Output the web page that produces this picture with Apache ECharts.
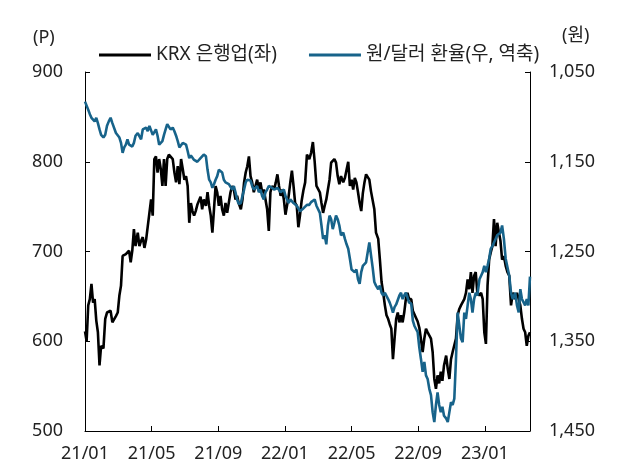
<!DOCTYPE html>
<html><head><meta charset="utf-8">
<script src="https://cdn.jsdelivr.net/npm/echarts@6/dist/echarts.min.js"></script>
<style>html,body{margin:0;padding:0;background:#fff}#c{width:622px;height:471px}</style>
</head><body><div id="c"></div>
<script>
const dates = [
'2021-01-01','2021-01-04','2021-01-07','2021-01-10','2021-01-13','2021-01-16','2021-01-19','2021-01-22','2021-01-25','2021-01-28','2021-01-31',
'2021-02-04','2021-02-07','2021-02-10','2021-02-13','2021-02-16','2021-02-19','2021-02-22','2021-02-25','2021-02-28',
'2021-03-03','2021-03-06','2021-03-09','2021-03-12','2021-03-15','2021-03-18','2021-03-21','2021-03-24','2021-03-27','2021-03-30',
'2021-04-02','2021-04-06','2021-04-09','2021-04-12','2021-04-15','2021-04-18','2021-04-21','2021-04-24','2021-04-27','2021-04-30',
'2021-05-03','2021-05-06','2021-05-09','2021-05-12','2021-05-15','2021-05-18','2021-05-21','2021-05-24','2021-05-27','2021-05-30',
'2021-06-02','2021-06-05','2021-06-09','2021-06-12','2021-06-15','2021-06-18','2021-06-21','2021-06-24','2021-06-27','2021-06-30',
'2021-07-03','2021-07-06','2021-07-09','2021-07-12','2021-07-15','2021-07-18','2021-07-21','2021-07-24','2021-07-27','2021-07-30',
'2021-08-02','2021-08-05','2021-08-09','2021-08-12','2021-08-15','2021-08-18','2021-08-21','2021-08-24','2021-08-27','2021-08-30',
'2021-09-02','2021-09-05','2021-09-08','2021-09-11','2021-09-14','2021-09-17','2021-09-20','2021-09-23','2021-09-26','2021-09-29',
'2021-10-02','2021-10-05','2021-10-08','2021-10-12','2021-10-15','2021-10-18','2021-10-21','2021-10-24','2021-10-27','2021-10-30',
'2021-11-02','2021-11-05','2021-11-08','2021-11-11','2021-11-14','2021-11-17','2021-11-20','2021-11-23','2021-11-26','2021-11-29',
'2021-12-02','2021-12-05','2021-12-08','2021-12-12','2021-12-15','2021-12-18','2021-12-21','2021-12-24','2021-12-27','2021-12-30',
'2022-01-02','2022-01-05','2022-01-08','2022-01-11','2022-01-14','2022-01-17','2022-01-20','2022-01-23','2022-01-26','2022-01-29',
'2022-02-01','2022-02-04','2022-02-07','2022-02-10','2022-02-14','2022-02-17','2022-02-20','2022-02-23','2022-02-26',
'2022-03-01','2022-03-04','2022-03-07','2022-03-10','2022-03-13','2022-03-16','2022-03-19','2022-03-22','2022-03-25','2022-03-28','2022-03-31',
'2022-04-03','2022-04-06','2022-04-09','2022-04-12','2022-04-16','2022-04-19','2022-04-22','2022-04-25','2022-04-28',
'2022-05-01','2022-05-04','2022-05-07','2022-05-10','2022-05-13','2022-05-16','2022-05-19','2022-05-22','2022-05-25','2022-05-28','2022-05-31',
'2022-06-03','2022-06-06','2022-06-09','2022-06-12','2022-06-15','2022-06-19','2022-06-22','2022-06-25','2022-06-28',
'2022-07-01','2022-07-04','2022-07-07','2022-07-10','2022-07-13','2022-07-16','2022-07-19','2022-07-22','2022-07-25','2022-07-28','2022-07-31',
'2022-08-03','2022-08-06','2022-08-09','2022-08-12','2022-08-15','2022-08-19','2022-08-22','2022-08-25','2022-08-28','2022-08-31',
'2022-09-03','2022-09-06','2022-09-09','2022-09-12','2022-09-15','2022-09-18','2022-09-21','2022-09-24','2022-09-27','2022-09-30',
'2022-10-03','2022-10-06','2022-10-09','2022-10-12','2022-10-15','2022-10-18','2022-10-22','2022-10-25','2022-10-28','2022-10-31',
'2022-11-03','2022-11-06','2022-11-09','2022-11-12','2022-11-15','2022-11-18','2022-11-21','2022-11-24','2022-11-27','2022-11-30',
'2022-12-03','2022-12-06','2022-12-09','2022-12-12','2022-12-15','2022-12-18','2022-12-22','2022-12-25','2022-12-28','2022-12-31',
'2023-01-03','2023-01-06','2023-01-09','2023-01-12','2023-01-15','2023-01-18','2023-01-21','2023-01-24','2023-01-27','2023-01-30',
'2023-02-02','2023-02-05','2023-02-08','2023-02-11','2023-02-14','2023-02-17','2023-02-20','2023-02-24','2023-02-27',
'2023-03-02','2023-03-05','2023-03-08','2023-03-11','2023-03-14','2023-03-17','2023-03-20','2023-03-23'
];
// KRX 은행업 지수 (좌축, P)
const krxBank = [
611,600,640,647,664,643,647,623,610,573,
595,592,625,632,633,634,621,621,628,632,
651,662,695,693,697,699,701,688,701,725,
706,721,706,712,716,704,713,728,743,758,
740,803,806,788,803,792,773,803,773,803,
808,808,803,788,777,795,775,803,792,780,
784,773,732,754,745,740,745,752,750,761,
747,758,751,766,751,740,721,747,773,766,
751,762,747,740,754,743,743,766,773,769,
758,762,754,747,758,777,788,795,806,784,
777,766,773,780,769,777,766,769,758,747,
723,766,773,769,777,786,773,762,769,758,
741,743,762,777,790,773,754,751,727,740,
756,768,777,808,803,810,822,800,773,775,
766,754,743,751,758,769,780,799,801,803,
799,784,775,784,777,782,791,800,773,780,
769,782,777,766,754,745,765,777,786,788,
780,767,766,747,721,714,691,666,654,640,
629,625,619,614,580,603,625,632,621,629,
621,632,647,654,647,647,634,634,626,622,
615,602,588,603,614,610,610,603,588,558,
547,562,553,566,556,573,584,569,558,580,
588,588,603,629,636,640,640,647,654,669,
658,677,654,673,677,654,651,654,647,610,
597,662,691,699,706,736,706,732,734,712,
691,695,684,677,673,640,654,647,654,647,
640,625,614,610,595,606,610
];
// 원/달러 환율 (우축, 역축, 원)
const usdKrw = [
1083,1084,1092,1097,1101,1103,1105,1101,1107,1114,
1120,1123,1120,1110,1105,1101,1107,1108,1118,1120,
1123,1129,1140,1134,1131,1125,1131,1129,1133,1129,
1121,1118,1116,1125,1114,1116,1112,1116,1110,1108,
1120,1118,1114,1121,1131,1133,1127,1120,1114,1108,
1107,1114,1112,1116,1121,1127,1134,1136,1129,1127,
1131,1138,1146,1143,1144,1148,1148,1150,1148,1146,
1144,1142,1144,1159,1170,1173,1179,1175,1170,1166,
1159,1157,1162,1170,1173,1175,1175,1177,1181,1177,
1184,1192,1197,1196,1188,1181,1173,1170,1168,1171,
1177,1181,1183,1177,1184,1181,1188,1192,1184,1181,
1177,1175,1179,1181,1183,1179,1181,1184,1183,1181,
1188,1192,1196,1192,1194,1196,1197,1199,1201,1205,
1205,1202,1201,1198,1198,1195,1196,1192,1199,1201,
1207,1221,1236,1232,1242,1221,1210,1214,1225,1218,
1210,1214,1221,1232,1229,1236,1242,1247,1258,1270,
1270,1273,1270,1281,1286,1273,1266,1268,1262,1251,
1240,1254,1268,1284,1288,1292,1288,1296,1299,1296,
1298,1303,1307,1312,1318,1312,1309,1310,1299,1296,
1303,1299,1296,1301,1307,1308,1327,1333,1335,1340,
1357,1370,1384,1373,1388,1392,1403,1410,1429,1440,
1421,1407,1421,1429,1423,1433,1436,1440,1429,1418,
1421,1414,1370,1318,1318,1347,1351,1318,1325,1310,
1296,1303,1318,1303,1296,1299,1281,1277,1273,1266,
1273,1266,1258,1247,1244,1240,1236,1232,1231,1229,
1221,1236,1258,1258,1277,1296,1303,1296,1310,1318,
1292,1303,1303,1310,1303,1310,1278
];
const xTickLabels = ['21/01','21/05','21/09','22/01','22/05','22/09','23/01'];
const seriesNames = ['KRX 은행업(좌)', '원/달러 환율(우, 역축)'];
const leftUnit = '(P)';
const rightUnit = '(원)';

// position of a date in months since 2021-01
function monthPos(s){
  const p = s.split('-').map(Number);
  const dim = new Date(p[0], p[1], 0).getDate();
  return (p[0]-2021)*12 + (p[1]-1) + (p[2]-1)/dim;
}
const xs = dates.map(monthPos);
const FONT = "'Noto Sans', 'Noto Sans CJK KR', sans-serif";
const txt = {color:'#222', fontFamily:FONT, fontSize:18};

const chart = echarts.init(document.getElementById('c'), null, {renderer:'canvas'});
chart.setOption({
  animation:false,
  backgroundColor:'#fff',
  grid:{left:85, right:92, top:72, bottom:40, containLabel:false},
  legend:{
    left:94, top:40, itemWidth:52, itemHeight:3, itemGap:32,
    icon:'rect',
    textStyle:Object.assign({}, txt, {fontSize:19, lineHeight:20}),
    data:seriesNames
  },
  graphic:[
    {type:'text', left:33, top:29, style:{text:leftUnit, fill:'#222', font:"18px 'Noto Sans', 'Noto Sans CJK KR'"}},
    {type:'text', left:562, top:27, style:{text:rightUnit, fill:'#222', font:"18px 'Noto Sans', 'Noto Sans CJK KR'"}}
  ],
  xAxis:{
    type:'value', min:0, max:26.71, interval:4,
    axisLine:{show:true, lineStyle:{color:'#000', width:1}},
    axisTick:{show:true, inside:true, length:5, lineStyle:{color:'#000'}},
    splitLine:{show:false},
    axisLabel:Object.assign({}, txt, {margin:14, showMaxLabel:false,
      formatter:function(v){ const i = Math.round(v/4); return (Math.abs(v-i*4)<1e-6 && xTickLabels[i]) ? xTickLabels[i] : ''; }})
  },
  yAxis:[
    {type:'value', min:500, max:900, interval:100, position:'left',
     axisLine:{show:true, lineStyle:{color:'#000', width:1}},
     axisTick:{show:true, inside:true, length:5, lineStyle:{color:'#000'}},
     splitLine:{show:false},
     axisLabel:Object.assign({}, txt, {margin:22})},
    {type:'value', min:1050, max:1450, interval:100, position:'right', inverse:true,
     axisLine:{show:true, lineStyle:{color:'#000', width:1}},
     axisTick:{show:true, inside:true, length:5, lineStyle:{color:'#000'}},
     splitLine:{show:false},
     axisLabel:Object.assign({}, txt, {margin:19, formatter:function(v){return v.toLocaleString('en-US');}})}
  ],
  series:[
    {name:seriesNames[0], type:'line', yAxisIndex:0, showSymbol:false, symbol:'none',
     lineStyle:{color:'#000', width:2.6}, itemStyle:{color:'#000'},
     data:xs.map((x,i)=>[x, krxBank[i]])},
    {name:seriesNames[1], type:'line', yAxisIndex:1, showSymbol:false, symbol:'none',
     lineStyle:{color:'#17638a', width:2.6}, itemStyle:{color:'#17638a'},
     data:xs.map((x,i)=>[x, usdKrw[i]])}
  ]
});
</script>
</body></html>
